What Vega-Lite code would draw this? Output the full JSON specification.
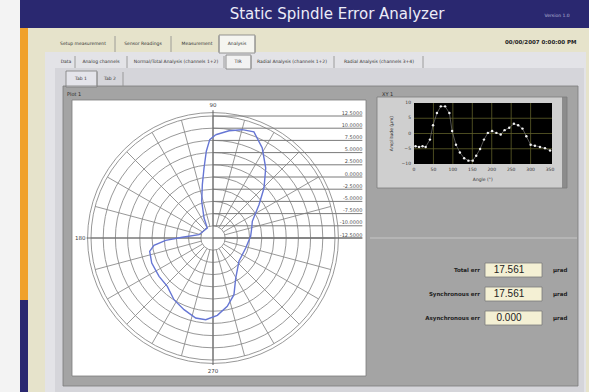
{
  "$schema": "https://vega.github.io/schema/vega-lite/v6.json",
  "width": 589,
  "height": 392,
  "padding": 0,
  "autosize": {"type": "none"},
  "background": "#f3f3f3",
  "config": {"view": {"stroke": null}, "font": "DejaVu Sans"},
  "datasets": {
    "panels": [
      {"part": "window", "x1": 0, "x2": 589, "y1": 0, "y2": 392},
      {"part": "titlebar", "x1": 20, "x2": 589, "y1": 0, "y2": 28},
      {"part": "stripe", "x1": 20, "x2": 28, "y1": 28, "y2": 300},
      {"part": "stripe2", "x1": 20, "x2": 28, "y1": 300, "y2": 392},
      {"part": "tabarea", "x1": 28, "x2": 589, "y1": 28, "y2": 392},
      {"part": "page", "x1": 45, "x2": 586, "y1": 52, "y2": 392},
      {"part": "tab1", "x1": 219, "x2": 255, "y1": 35, "y2": 53},
      {"part": "subpage", "x1": 55, "x2": 584, "y1": 68, "y2": 392},
      {"part": "tab2", "x1": 226, "x2": 251, "y1": 55, "y2": 69},
      {"part": "frame", "x1": 63, "x2": 578, "y1": 86, "y2": 386},
      {"part": "tab3", "x1": 66, "x2": 97, "y1": 71, "y2": 87},
      {"part": "plotbox", "x1": 72, "x2": 366, "y1": 100, "y2": 376},
      {"part": "xyframe", "x1": 377, "x2": 567, "y1": 97, "y2": 188},
      {"part": "xyscroll", "x1": 562, "x2": 567, "y1": 97, "y2": 188},
      {"part": "xyplot", "x1": 414, "x2": 552, "y1": 103, "y2": 164},
      {"part": "valuebox", "x1": 485, "x2": 542, "y1": 263, "y2": 277},
      {"part": "valuebox", "x1": 485, "x2": 542, "y1": 287, "y2": 301},
      {"part": "valuebox", "x1": 485, "x2": 542, "y1": 311, "y2": 325}
    ],
    "outlines": [
      {"x1": 219, "x2": 255, "y1": 35, "y2": 53},
      {"x1": 226, "x2": 251, "y1": 55, "y2": 69},
      {"x1": 66, "x2": 97, "y1": 71, "y2": 87},
      {"x1": 63, "x2": 578, "y1": 86, "y2": 386},
      {"x1": 72, "x2": 366, "y1": 100, "y2": 376},
      {"x1": 377, "x2": 567, "y1": 97, "y2": 188},
      {"x1": 485, "x2": 542, "y1": 263, "y2": 277},
      {"x1": 485, "x2": 542, "y1": 287, "y2": 301},
      {"x1": 485, "x2": 542, "y1": 311, "y2": 325}
    ],
    "seps": [
      {"x": 115, "y1": 36, "y2": 52}, {"x": 171, "y1": 36, "y2": 52}, {"x": 219, "y1": 36, "y2": 52}, {"x": 255, "y1": 36, "y2": 52},
      {"x": 75, "y1": 56, "y2": 68}, {"x": 127, "y1": 56, "y2": 68}, {"x": 224, "y1": 56, "y2": 68}, {"x": 251, "y1": 56, "y2": 68}, {"x": 334, "y1": 56, "y2": 68}, {"x": 423, "y1": 56, "y2": 68},
      {"x": 97, "y1": 72, "y2": 86}, {"x": 123, "y1": 72, "y2": 86}
    ],
    "hlines": [{"x1": 370, "x2": 577, "y": 238}],
    "rings": [{"r": 2.5}, {"r": 5}, {"r": 7.5}, {"r": 10}, {"r": 12.5}, {"r": 15}, {"r": 17.5}, {"r": 20}, {"r": 22.5}, {"r": 25}, {"r": 25.7}],
    "spokes": [
      {"angle": 0}, {"angle": 15}, {"angle": 30}, {"angle": 45}, {"angle": 60}, {"angle": 75},
      {"angle": 90}, {"angle": 105}, {"angle": 120}, {"angle": 135}, {"angle": 150}, {"angle": 165},
      {"angle": 180}, {"angle": 195}, {"angle": 210}, {"angle": 225}, {"angle": 240}, {"angle": 255},
      {"angle": 270}, {"angle": 285}, {"angle": 300}, {"angle": 315}, {"angle": 330}, {"angle": 345}
    ],
    "ringlabels": [
      {"r": 25, "label": "12.5000"}, {"r": 22.5, "label": "10.0000"}, {"r": 20, "label": "7.5000"},
      {"r": 17.5, "label": "5.0000"}, {"r": 15, "label": "2.5000"}, {"r": 12.5, "label": "0.0000"},
      {"r": 10, "label": "-2.5000"}, {"r": 7.5, "label": "-5.0000"}, {"r": 5, "label": "-7.5000"},
      {"r": 2.5, "label": "-10.0000"}, {"r": 0, "label": "-12.5000"}
    ],
    "anglelabels": [{"angle": 90, "text": "90"}, {"angle": 180, "text": "180"}, {"angle": 270, "text": "270"}],
    "polar": [
      {"i": 1, "angle": 88.5, "value": 8.67}, {"i": 2, "angle": 81.5, "value": 9.73},
      {"i": 3, "angle": 74.9, "value": 10.49}, {"i": 4, "angle": 68.9, "value": 10.8},
      {"i": 5, "angle": 61.3, "value": 8.52}, {"i": 6, "angle": 53.0, "value": 5.45},
      {"i": 7, "angle": 44.4, "value": 2.13}, {"i": 8, "angle": 35.9, "value": -0.86},
      {"i": 9, "angle": 23.0, "value": -3.75}, {"i": 10, "angle": 14.5, "value": -4.3},
      {"i": 11, "angle": 2.5, "value": -4.78}, {"i": 12, "angle": 343, "value": -5.49},
      {"i": 13, "angle": 318.1, "value": -5.35}, {"i": 14, "angle": 299.6, "value": -3.07},
      {"i": 15, "angle": 290.3, "value": -0.12}, {"i": 16, "angle": 281.8, "value": 1.8},
      {"i": 17, "angle": 273.2, "value": 3.38}, {"i": 18, "angle": 264.9, "value": 4.3},
      {"i": 19, "angle": 257.8, "value": 4.28}, {"i": 20, "angle": 248, "value": 3.34},
      {"i": 21, "angle": 237.7, "value": 2.46}, {"i": 22, "angle": 226.6, "value": 1.13},
      {"i": 23, "angle": 215.4, "value": 1.06}, {"i": 24, "angle": 202.2, "value": 1.06},
      {"i": 25, "angle": 191.9, "value": 0.76}, {"i": 26, "angle": 187.1, "value": -0.31},
      {"i": 27, "angle": 182.8, "value": -2.79}, {"i": 28, "angle": 178.7, "value": -6.21},
      {"i": 29, "angle": 166.7, "value": -9.55}, {"i": 30, "angle": 119.7, "value": -10.14},
      {"i": 31, "angle": 114.2, "value": -8.01}, {"i": 32, "angle": 107.1, "value": -4.63},
      {"i": 33, "angle": 101.3, "value": -1.35}, {"i": 34, "angle": 97.3, "value": 1.97},
      {"i": 35, "angle": 94.4, "value": 5.33}, {"i": 36, "angle": 91.9, "value": 7.66},
      {"i": 37, "angle": 88.5, "value": 8.67}
    ],
    "xy": [
      {"angle": 4, "amp": -4.2}, {"angle": 13, "amp": -4.4}, {"angle": 22, "amp": -4.2}, {"angle": 30, "amp": -4.4},
      {"angle": 41, "amp": -2.0}, {"angle": 49, "amp": 2.7}, {"angle": 59, "amp": 6.7}, {"angle": 69, "amp": 8.9},
      {"angle": 80, "amp": 8.9}, {"angle": 91, "amp": 6.7}, {"angle": 98, "amp": 0.8}, {"angle": 108, "amp": -3.7},
      {"angle": 118, "amp": -6.2}, {"angle": 129, "amp": -8.1}, {"angle": 140, "amp": -8.9}, {"angle": 151, "amp": -8.9},
      {"angle": 160, "amp": -7.3}, {"angle": 170, "amp": -5.1}, {"angle": 180, "amp": -2.0}, {"angle": 190, "amp": 0.2},
      {"angle": 201, "amp": 0.8}, {"angle": 212, "amp": 0.2}, {"angle": 223, "amp": -0.3}, {"angle": 233, "amp": 1.1},
      {"angle": 245, "amp": 1.9}, {"angle": 257, "amp": 3.2}, {"angle": 268, "amp": 2.7}, {"angle": 279, "amp": 1.6},
      {"angle": 289, "amp": -0.9}, {"angle": 300, "amp": -3.7}, {"angle": 311, "amp": -4.0}, {"angle": 324, "amp": -4.4},
      {"angle": 337, "amp": -4.8}, {"angle": 350, "amp": -5.6}
    ],
    "xgrid": [{"v": 50}, {"v": 100}, {"v": 150}, {"v": 200}, {"v": 250}, {"v": 300}],
    "ygrid": [{"v": -5}, {"v": 0}, {"v": 5}],
    "xticks": [{"v": 0}, {"v": 50}, {"v": 100}, {"v": 150}, {"v": 200}, {"v": 250}, {"v": 300}, {"v": 350}],
    "yticks": [{"v": -10}, {"v": -5}, {"v": 0}, {"v": 5}, {"v": 10}],
    "title": [{"text": "Static Spindle Error Analyzer", "x": 337, "y": 14}],
    "version": [{"text": "Version 1.0", "x": 557, "y": 16}],
    "date": [{"text": "00/00/2007  0:00:00 PM", "x": 505, "y": 42}],
    "tabs": [
      {"text": "Setup measurement", "x": 83, "y": 44},
      {"text": "Sensor Readings", "x": 143, "y": 44},
      {"text": "Measurement", "x": 197, "y": 44},
      {"text": "Analysis", "x": 237, "y": 44},
      {"text": "Data", "x": 66, "y": 62},
      {"text": "Analog channels", "x": 101, "y": 62},
      {"text": "Normal/Total Analysis (channels 1+2)", "x": 176, "y": 62},
      {"text": "TIR", "x": 238, "y": 62},
      {"text": "Radial Analysis (channels 1+2)", "x": 292, "y": 62},
      {"text": "Radial Analysis (channels 3+4)", "x": 379, "y": 62},
      {"text": "Tab 1", "x": 81, "y": 79},
      {"text": "Tab 2", "x": 110, "y": 79}
    ],
    "plotlabels": [{"text": "Plot 1", "x": 67, "y": 94}, {"text": "XY 1", "x": 382, "y": 94}],
    "valuelabels": [
      {"text": "Total err", "x": 480, "y": 270},
      {"text": "Synchronous err", "x": 480, "y": 294},
      {"text": "Asynchronous err", "x": 480, "y": 318}
    ],
    "numbers": [
      {"text": "17.561", "x": 509, "y": 270},
      {"text": "17.561", "x": 509, "y": 294},
      {"text": "0.000", "x": 509, "y": 318}
    ],
    "units": [
      {"text": "µrad", "x": 553, "y": 270},
      {"text": "µrad", "x": 553, "y": 294},
      {"text": "µrad", "x": 553, "y": 318}
    ]
  },
  "resolve": {"scale": {"x": "independent", "y": "independent", "color": "independent", "size": "independent"}},
  "layer": [
    {
      "layer": [
        {
          "data": {"name": "panels"},
          "mark": {"type": "rect"},
          "encoding": {
            "x": {"field": "x1", "type": "quantitative", "scale": {"domain": [0, 589], "range": [0, 589], "nice": false, "zero": false}, "axis": null},
            "x2": {"field": "x2"},
            "y": {"field": "y1", "type": "quantitative", "scale": {"domain": [0, 392], "range": [0, 392], "nice": false, "zero": false}, "axis": null},
            "y2": {"field": "y2"},
            "color": {
              "field": "part", "type": "nominal", "legend": null,
              "scale": {
                "domain": ["window", "titlebar", "stripe", "stripe2", "tabarea", "page", "tab1", "subpage", "tab2", "frame", "tab3", "plotbox", "xyframe", "xyscroll", "xyplot", "valuebox"],
                "range": ["#f3f3f3", "#2a2870", "#f0a12c", "#2a2870", "#e6e3cb", "#e3e3e7", "#f5f5f0", "#d5d5da", "#f2f2f2", "#a4a4a4", "#e4e4ea", "#ffffff", "#cfcfcf", "#8c8c8c", "#000000", "#f4f0d4"]
              }
            }
          }
        },
        {
          "data": {"name": "outlines"},
          "mark": {"type": "rect", "filled": false, "color": "#7c7c7c", "strokeWidth": 0.8},
          "encoding": {
            "x": {"field": "x1", "type": "quantitative", "scale": {"domain": [0, 589], "range": [0, 589], "nice": false, "zero": false}, "axis": null},
            "x2": {"field": "x2"},
            "y": {"field": "y1", "type": "quantitative", "scale": {"domain": [0, 392], "range": [0, 392], "nice": false, "zero": false}, "axis": null},
            "y2": {"field": "y2"}
          }
        },
        {
          "data": {"name": "seps"},
          "mark": {"type": "rule", "color": "#8a8a8a", "strokeWidth": 0.8},
          "encoding": {
            "x": {"field": "x", "type": "quantitative", "scale": {"domain": [0, 589], "range": [0, 589], "nice": false, "zero": false}, "axis": null},
            "y": {"field": "y1", "type": "quantitative", "scale": {"domain": [0, 392], "range": [0, 392], "nice": false, "zero": false}, "axis": null},
            "y2": {"field": "y2"}
          }
        },
        {
          "data": {"name": "hlines"},
          "mark": {"type": "rule", "color": "#c6c6c6", "strokeWidth": 1},
          "encoding": {
            "x": {"field": "x1", "type": "quantitative", "scale": {"domain": [0, 589], "range": [0, 589], "nice": false, "zero": false}, "axis": null},
            "x2": {"field": "x2"},
            "y": {"field": "y", "type": "quantitative", "scale": {"domain": [0, 392], "range": [0, 392], "nice": false, "zero": false}, "axis": null}
          }
        }
      ]
    },
    {
      "layer": [
        {
          "data": {"name": "rings"},
          "mark": {"type": "point", "filled": false, "color": "#8c8c8c", "strokeWidth": 0.9, "opacity": 1},
          "encoding": {
            "x": {"datum": 0, "type": "quantitative", "scale": {"domain": [-25, 25], "range": [91, 335], "nice": false, "zero": false}, "axis": null},
            "y": {"datum": 0, "type": "quantitative", "scale": {"domain": [-25, 25], "range": [360, 116], "nice": false, "zero": false}, "axis": null},
            "size": {"field": "r", "type": "quantitative", "legend": null, "scale": {"type": "pow", "exponent": 2, "domain": [0, 25], "range": [0, 59536]}}
          }
        },
        {
          "data": {"name": "spokes"},
          "transform": [
            {"calculate": "2.5 * cos(datum.angle * PI / 180)", "as": "sx"},
            {"calculate": "2.5 * sin(datum.angle * PI / 180)", "as": "sy"},
            {"calculate": "25 * cos(datum.angle * PI / 180)", "as": "ex"},
            {"calculate": "25 * sin(datum.angle * PI / 180)", "as": "ey"}
          ],
          "mark": {"type": "rule", "color": "#8c8c8c", "strokeWidth": 0.9},
          "encoding": {
            "x": {"field": "sx", "type": "quantitative", "scale": {"domain": [-25, 25], "range": [91, 335], "nice": false, "zero": false}, "axis": null},
            "x2": {"field": "ex"},
            "y": {"field": "sy", "type": "quantitative", "scale": {"domain": [-25, 25], "range": [360, 116], "nice": false, "zero": false}, "axis": null},
            "y2": {"field": "ey"}
          }
        },
        {
          "data": {"name": "ringlabels"},
          "mark": {"type": "rule", "color": "#7a7a7a", "strokeWidth": 1},
          "encoding": {
            "x": {"datum": 0, "type": "quantitative", "scale": {"domain": [-25, 25], "range": [91, 335], "nice": false, "zero": false}, "axis": null},
            "x2": {"datum": 30.6},
            "y": {"field": "r", "type": "quantitative", "scale": {"domain": [-25, 25], "range": [360, 116], "nice": false, "zero": false}, "axis": null}
          }
        },
        {
          "data": {"values": [{}]},
          "mark": {"type": "rule", "color": "#6a6a6a", "strokeWidth": 1.1},
          "encoding": {
            "x": {"datum": -25.9, "type": "quantitative", "scale": {"domain": [-25, 25], "range": [91, 335], "nice": false, "zero": false}, "axis": null},
            "x2": {"datum": 30.6},
            "y": {"datum": 0, "type": "quantitative", "scale": {"domain": [-25, 25], "range": [360, 116], "nice": false, "zero": false}, "axis": null}
          }
        },
        {
          "data": {"values": [{}]},
          "mark": {"type": "rule", "color": "#6a6a6a", "strokeWidth": 1.1},
          "encoding": {
            "x": {"datum": 0, "type": "quantitative", "scale": {"domain": [-25, 25], "range": [91, 335], "nice": false, "zero": false}, "axis": null},
            "y": {"datum": -26, "type": "quantitative", "scale": {"domain": [-25, 25], "range": [360, 116], "nice": false, "zero": false}, "axis": null},
            "y2": {"datum": 26.2}
          }
        },
        {
          "data": {"name": "ringlabels"},
          "mark": {"type": "text", "align": "right", "baseline": "bottom", "dy": -0.5, "fontSize": 5, "color": "#505050"},
          "encoding": {
            "x": {"datum": 30.6, "type": "quantitative", "scale": {"domain": [-25, 25], "range": [91, 335], "nice": false, "zero": false}, "axis": null},
            "y": {"field": "r", "type": "quantitative", "scale": {"domain": [-25, 25], "range": [360, 116], "nice": false, "zero": false}, "axis": null},
            "text": {"field": "label"}
          }
        },
        {
          "data": {"name": "anglelabels"},
          "transform": [
            {"calculate": "27.2 * cos(datum.angle * PI / 180)", "as": "lx"},
            {"calculate": "27.2 * sin(datum.angle * PI / 180)", "as": "ly"}
          ],
          "mark": {"type": "text", "align": "center", "baseline": "middle", "fontSize": 5.5, "color": "#404040"},
          "encoding": {
            "x": {"field": "lx", "type": "quantitative", "scale": {"domain": [-25, 25], "range": [91, 335], "nice": false, "zero": false}, "axis": null},
            "y": {"field": "ly", "type": "quantitative", "scale": {"domain": [-25, 25], "range": [360, 116], "nice": false, "zero": false}, "axis": null},
            "text": {"field": "text"}
          }
        },
        {
          "data": {"name": "polar"},
          "transform": [
            {"calculate": "(datum.value + 12.5) * cos(datum.angle * PI / 180)", "as": "px"},
            {"calculate": "(datum.value + 12.5) * sin(datum.angle * PI / 180)", "as": "py"}
          ],
          "mark": {"type": "line", "color": "#6676d4", "strokeWidth": 1.4, "interpolate": "linear"},
          "encoding": {
            "x": {"field": "px", "type": "quantitative", "scale": {"domain": [-25, 25], "range": [91, 335], "nice": false, "zero": false}, "axis": null},
            "y": {"field": "py", "type": "quantitative", "scale": {"domain": [-25, 25], "range": [360, 116], "nice": false, "zero": false}, "axis": null},
            "order": {"field": "i", "type": "quantitative"}
          }
        }
      ]
    },
    {
      "layer": [
        {
          "data": {"name": "xgrid"},
          "mark": {"type": "rule", "color": "#5e5e2a", "strokeWidth": 0.8},
          "encoding": {
            "x": {"field": "v", "type": "quantitative", "scale": {"domain": [0, 355], "range": [414, 552], "nice": false, "zero": false}, "axis": null},
            "y": {"datum": -10, "type": "quantitative", "scale": {"domain": [-10, 10], "range": [164, 103], "nice": false, "zero": false}, "axis": null},
            "y2": {"datum": 10}
          }
        },
        {
          "data": {"name": "ygrid"},
          "mark": {"type": "rule", "color": "#5e5e2a", "strokeWidth": 0.8},
          "encoding": {
            "y": {"field": "v", "type": "quantitative", "scale": {"domain": [-10, 10], "range": [164, 103], "nice": false, "zero": false}, "axis": null},
            "x": {"datum": 0, "type": "quantitative", "scale": {"domain": [0, 355], "range": [414, 552], "nice": false, "zero": false}, "axis": null},
            "x2": {"datum": 355}
          }
        },
        {
          "data": {"name": "xy"},
          "mark": {"type": "line", "color": "#8a8a8a", "strokeWidth": 0.6},
          "encoding": {
            "x": {"field": "angle", "type": "quantitative", "scale": {"domain": [0, 355], "range": [414, 552], "nice": false, "zero": false}, "axis": null},
            "y": {"field": "amp", "type": "quantitative", "scale": {"domain": [-10, 10], "range": [164, 103], "nice": false, "zero": false}, "axis": null}
          }
        },
        {
          "data": {"name": "xy"},
          "mark": {"type": "point", "filled": true, "color": "#f0f0f0", "size": 6, "opacity": 1},
          "encoding": {
            "x": {"field": "angle", "type": "quantitative", "scale": {"domain": [0, 355], "range": [414, 552], "nice": false, "zero": false}, "axis": null},
            "y": {"field": "amp", "type": "quantitative", "scale": {"domain": [-10, 10], "range": [164, 103], "nice": false, "zero": false}, "axis": null}
          }
        },
        {
          "data": {"name": "xticks"},
          "mark": {"type": "text", "align": "center", "baseline": "top", "dy": 3, "fontSize": 4.5, "color": "#333333"},
          "encoding": {
            "x": {"field": "v", "type": "quantitative", "scale": {"domain": [0, 355], "range": [414, 552], "nice": false, "zero": false}, "axis": null},
            "y": {"datum": -10, "type": "quantitative", "scale": {"domain": [-10, 10], "range": [164, 103], "nice": false, "zero": false}, "axis": null},
            "text": {"field": "v", "type": "quantitative"}
          }
        },
        {
          "data": {"name": "yticks"},
          "mark": {"type": "text", "align": "right", "baseline": "middle", "dx": -3, "fontSize": 4.5, "color": "#333333"},
          "encoding": {
            "x": {"datum": 0, "type": "quantitative", "scale": {"domain": [0, 355], "range": [414, 552], "nice": false, "zero": false}, "axis": null},
            "y": {"field": "v", "type": "quantitative", "scale": {"domain": [-10, 10], "range": [164, 103], "nice": false, "zero": false}, "axis": null},
            "text": {"field": "v", "type": "quantitative"}
          }
        },
        {
          "data": {"values": [{"t": "Angle (°)"}]},
          "mark": {"type": "text", "align": "center", "baseline": "middle", "fontSize": 4.5, "color": "#333333"},
          "encoding": {
            "x": {"datum": 177, "type": "quantitative", "scale": {"domain": [0, 355], "range": [414, 552], "nice": false, "zero": false}, "axis": null},
            "y": {"datum": -15.3, "type": "quantitative", "scale": {"domain": [-10, 10], "range": [164, 103], "nice": false, "zero": false}, "axis": null},
            "text": {"field": "t"}
          }
        },
        {
          "data": {"values": [{"t": "Amplitude (µm)"}]},
          "mark": {"type": "text", "align": "center", "baseline": "middle", "fontSize": 4.5, "angle": 270, "color": "#333333"},
          "encoding": {
            "x": {"datum": -56, "type": "quantitative", "scale": {"domain": [0, 355], "range": [414, 552], "nice": false, "zero": false}, "axis": null},
            "y": {"datum": 0, "type": "quantitative", "scale": {"domain": [-10, 10], "range": [164, 103], "nice": false, "zero": false}, "axis": null},
            "text": {"field": "t"}
          }
        }
      ]
    },
    {
      "layer": [
        {
          "data": {"name": "title"},
          "mark": {"type": "text", "align": "center", "baseline": "middle", "fontSize": 15, "font": "DejaVu Sans", "color": "#ececf8"},
          "encoding": {
            "x": {"field": "x", "type": "quantitative", "scale": {"domain": [0, 589], "range": [0, 589], "nice": false, "zero": false}, "axis": null},
            "y": {"field": "y", "type": "quantitative", "scale": {"domain": [0, 392], "range": [0, 392], "nice": false, "zero": false}, "axis": null},
            "text": {"field": "text"}
          }
        },
        {
          "data": {"name": "version"},
          "mark": {"type": "text", "align": "center", "baseline": "middle", "fontSize": 4.5, "color": "#b8b8d8"},
          "encoding": {
            "x": {"field": "x", "type": "quantitative", "scale": {"domain": [0, 589], "range": [0, 589], "nice": false, "zero": false}, "axis": null},
            "y": {"field": "y", "type": "quantitative", "scale": {"domain": [0, 392], "range": [0, 392], "nice": false, "zero": false}, "axis": null},
            "text": {"field": "text"}
          }
        },
        {
          "data": {"name": "date"},
          "mark": {"type": "text", "align": "left", "baseline": "middle", "fontSize": 5.5, "fontWeight": "bold", "color": "#222222"},
          "encoding": {
            "x": {"field": "x", "type": "quantitative", "scale": {"domain": [0, 589], "range": [0, 589], "nice": false, "zero": false}, "axis": null},
            "y": {"field": "y", "type": "quantitative", "scale": {"domain": [0, 392], "range": [0, 392], "nice": false, "zero": false}, "axis": null},
            "text": {"field": "text"}
          }
        },
        {
          "data": {"name": "tabs"},
          "mark": {"type": "text", "align": "center", "baseline": "middle", "fontSize": 4.5, "color": "#333333"},
          "encoding": {
            "x": {"field": "x", "type": "quantitative", "scale": {"domain": [0, 589], "range": [0, 589], "nice": false, "zero": false}, "axis": null},
            "y": {"field": "y", "type": "quantitative", "scale": {"domain": [0, 392], "range": [0, 392], "nice": false, "zero": false}, "axis": null},
            "text": {"field": "text"}
          }
        },
        {
          "data": {"name": "plotlabels"},
          "mark": {"type": "text", "align": "left", "baseline": "middle", "fontSize": 5, "color": "#2a2a2a"},
          "encoding": {
            "x": {"field": "x", "type": "quantitative", "scale": {"domain": [0, 589], "range": [0, 589], "nice": false, "zero": false}, "axis": null},
            "y": {"field": "y", "type": "quantitative", "scale": {"domain": [0, 392], "range": [0, 392], "nice": false, "zero": false}, "axis": null},
            "text": {"field": "text"}
          }
        },
        {
          "data": {"name": "valuelabels"},
          "mark": {"type": "text", "align": "right", "baseline": "middle", "fontSize": 5.5, "fontWeight": "bold", "color": "#222222"},
          "encoding": {
            "x": {"field": "x", "type": "quantitative", "scale": {"domain": [0, 589], "range": [0, 589], "nice": false, "zero": false}, "axis": null},
            "y": {"field": "y", "type": "quantitative", "scale": {"domain": [0, 392], "range": [0, 392], "nice": false, "zero": false}, "axis": null},
            "text": {"field": "text"}
          }
        },
        {
          "data": {"name": "numbers"},
          "mark": {"type": "text", "align": "center", "baseline": "middle", "fontSize": 10, "font": "Liberation Sans", "color": "#222222"},
          "encoding": {
            "x": {"field": "x", "type": "quantitative", "scale": {"domain": [0, 589], "range": [0, 589], "nice": false, "zero": false}, "axis": null},
            "y": {"field": "y", "type": "quantitative", "scale": {"domain": [0, 392], "range": [0, 392], "nice": false, "zero": false}, "axis": null},
            "text": {"field": "text"}
          }
        },
        {
          "data": {"name": "units"},
          "mark": {"type": "text", "align": "left", "baseline": "middle", "fontSize": 5.5, "fontWeight": "bold", "color": "#222222"},
          "encoding": {
            "x": {"field": "x", "type": "quantitative", "scale": {"domain": [0, 589], "range": [0, 589], "nice": false, "zero": false}, "axis": null},
            "y": {"field": "y", "type": "quantitative", "scale": {"domain": [0, 392], "range": [0, 392], "nice": false, "zero": false}, "axis": null},
            "text": {"field": "text"}
          }
        }
      ]
    }
  ]
}
